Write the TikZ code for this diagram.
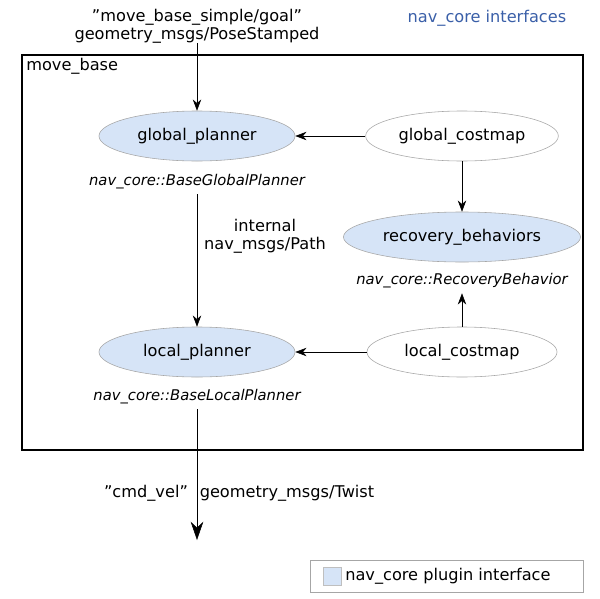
\documentclass[tikz,border=0pt]{standalone}
\usepackage{fontspec}
\setmainfont{DejaVu Sans}
\usetikzlibrary{arrows.meta,shapes.geometric}
\definecolor{plugin}{HTML}{D6E4F7}
\definecolor{title}{HTML}{3A5FA8}
\tikzset{
  iface/.style={ellipse,draw=gray!70,fill=plugin,minimum width=4.9cm,minimum height=1.25cm,font=\fontsize{11.5}{13}\selectfont},
  plain/.style={ellipse,draw=gray!70,fill=white,minimum width=4.75cm,minimum height=1.25cm,font=\fontsize{11.5}{13}\selectfont},
  cls/.style={font=\fontsize{10.5}{12}\selectfont\itshape},
  lbl/.style={font=\fontsize{11.5}{12.5}\selectfont,inner sep=0pt},
  link/.style={-{Stealth[length=8pt,width=6pt]}}
}
\begin{document}
\begin{tikzpicture}[x=0.025cm,y=-0.025cm]
  \useasboundingbox (0,0) rectangle (600,599);
  % frame and title
  \node[lbl,text=title] (T) at (487,18) {nav\_core interfaces};
  \draw[thick] (22,55) rectangle (583,450);
  \node[lbl,anchor=west] (MB) at (26,66) {move\_base};
  % goal input
  \node[lbl,align=center] (goal) at (197,26) {\char34 move\_base\_simple/goal\char34\\geometry\_msgs/PoseStamped};
  % planners and costmaps
  \node[iface] (GP)  at (197,136) {global\_planner};
  \node[plain] (GC)  at (462,136) {global\_costmap};
  \node[iface] (RB)  at (462,237) {recovery\_behaviors};
  \node[iface] (LP)  at (197,352) {local\_planner};
  \node[plain] (LC)  at (462,352) {local\_costmap};
  \node[cls] (GPc) at (197,182) {nav\_core::BaseGlobalPlanner};
  \node[cls] (RBc) at (462,281) {nav\_core::RecoveryBehavior};
  \node[cls] (LPc) at (197,397) {nav\_core::BaseLocalPlanner};
  \node[lbl,align=center] (path) at (265,236) {internal\\nav\_msgs/Path};
  % output
  \coordinate (out) at (197,540);
  \node[lbl] (cmd) at (146,493) {\char34 cmd\_vel\char34};
  \node[lbl] (tw)  at (287,493) {geometry\_msgs/Twist};
  % connectors
  \draw[link] (goal) -- (GP);
  \draw[link] (GC) -- (GP);
  \draw[link] (GC) -- (RB);
  \draw[link] (LC) -- (RBc);
  \draw[link] (LC) -- (LP);
  \draw[link] (GPc) -- (LP);
  \draw[-{Stealth[length=13pt,width=9pt]}] (LPc) -- (out);
  % legend
  \draw[gray!70] (310,560) rectangle (583,592);
  \node[draw=gray!50,fill=plugin,minimum size=0.45cm,inner sep=0pt] (key) at (332,576) {};
  \node[lbl,anchor=west] (keyt) at (345,576) {nav\_core plugin interface};
\end{tikzpicture}
\end{document}
